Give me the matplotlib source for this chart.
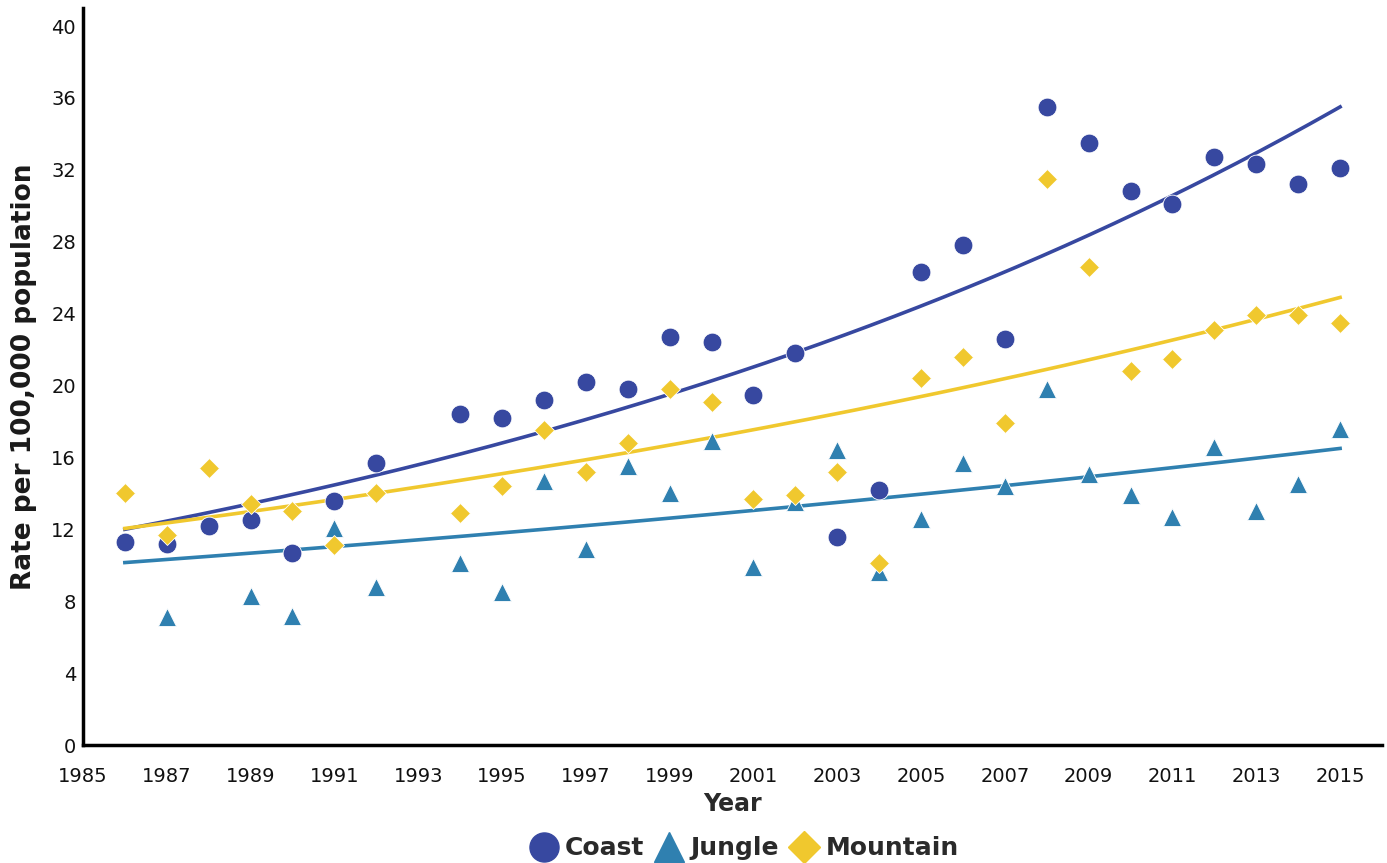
import numpy as np
import matplotlib
matplotlib.use("Agg")
import matplotlib.pyplot as plt
from matplotlib.lines import Line2D

plt.rcParams['font.family'] = ['DejaVu Sans']

years = list(range(1986, 2016))
coast = [11.3, 11.2, 12.2, 12.5, 10.7, 13.6, 15.7, None, 18.4, 18.2, 19.2, 20.2, 19.8,
         22.7, 22.4, 19.5, 21.8, 11.6, 14.2, 26.3, 27.8, 22.6, 35.5, 33.5, 30.8, 30.1,
         32.7, 32.3, 31.2, 32.1]
jungle = [None, 7.1, None, 8.3, 7.2, 12.1, 8.8, None, 10.1, 8.5, 14.7, 10.9, 15.5,
          14.0, 16.9, 9.9, 13.5, 16.4, 9.6, 12.6, 15.7, 14.4, 19.8, 15.1, 13.9, 12.7,
          16.6, 13.0, 14.5, 17.6]
mountain = [14.0, 11.7, 15.4, 13.4, 13.0, 11.1, 14.0, None, 12.9, 14.4, 17.5, 15.2, 16.8,
            19.8, 19.1, 13.7, 13.9, 15.2, 10.1, 20.4, 21.6, 17.9, 31.5, 26.6, 20.8, 21.5,
            23.1, 23.9, 23.9, 23.5]

# exponential trendlines: value at 1986 and at 2015
trend_years = [1986, 2015]
coast_trend = [12.0, 35.5]
jungle_trend = [10.15, 16.5]
mountain_trend = [12.05, 24.9]

series_names = ["Coast", "Jungle", "Mountain"]
colors = ["#3748A0", "#2F80B0", "#F0C82E"]
markers = ["o", "^", "D"]
msizes = [13.5, 13.5, 10.5]

fig = plt.figure(figsize=(13.87, 8.63), dpi=100)
ax = fig.add_axes([0.0598, 0.1367, 0.9366, 0.854])

for i, tr in enumerate([coast_trend, jungle_trend, mountain_trend]):
    xt = np.linspace(trend_years[0], trend_years[1], 200)
    frac = (xt - trend_years[0]) / (trend_years[1] - trend_years[0])
    yt = tr[0] * (tr[1] / tr[0]) ** frac
    ax.plot(xt, yt, color=colors[i], lw=2.6, zorder=1)

for i, data in enumerate([coast, jungle, mountain]):
    x = [y for y, v in zip(years, data) if v is not None]
    v = [v for v in data if v is not None]
    ax.plot(x, v, linestyle="none", marker=markers[i], markersize=msizes[i],
            color=colors[i], markeredgecolor="white", markeredgewidth=0.6, zorder=2 + i)

ax.set_xlim(1985, 2016)
ax.set_ylim(0, 41)
ax.set_xticks(range(1985, 2016, 2))
ax.set_yticks(range(0, 41, 4))
ax.tick_params(axis="both", length=0, labelsize=14, labelcolor="#111111")
ax.tick_params(axis="x", pad=16)
ax.tick_params(axis="y", pad=5)
for s in ["top", "right"]:
    ax.spines[s].set_visible(False)
for s in ["left", "bottom"]:
    ax.spines[s].set_linewidth(2.5)
    ax.spines[s].set_color("black")

ax.set_xlabel("Year", fontsize=17, fontweight="bold", labelpad=4, color="#2a2a2a")
ax.set_ylabel("Rate per 100,000 population", fontsize=19, fontweight="bold", labelpad=10,
              color="#1a1a1a")

handles = [Line2D([], [], linestyle="none", marker=markers[i], markersize=msizes[i] * 1.55,
                  color=colors[i]) for i in range(3)]
leg = fig.legend(handles, series_names, loc="center", bbox_to_anchor=(0.537, 0.017), ncol=3,
                 frameon=False, prop={"size": 18, "weight": "bold"}, handletextpad=0.35,
                 columnspacing=0.5, handlelength=1.0)
for t in leg.get_texts():
    t.set_color("#2a2a2a")

fig.savefig("out.png", dpi=100)
